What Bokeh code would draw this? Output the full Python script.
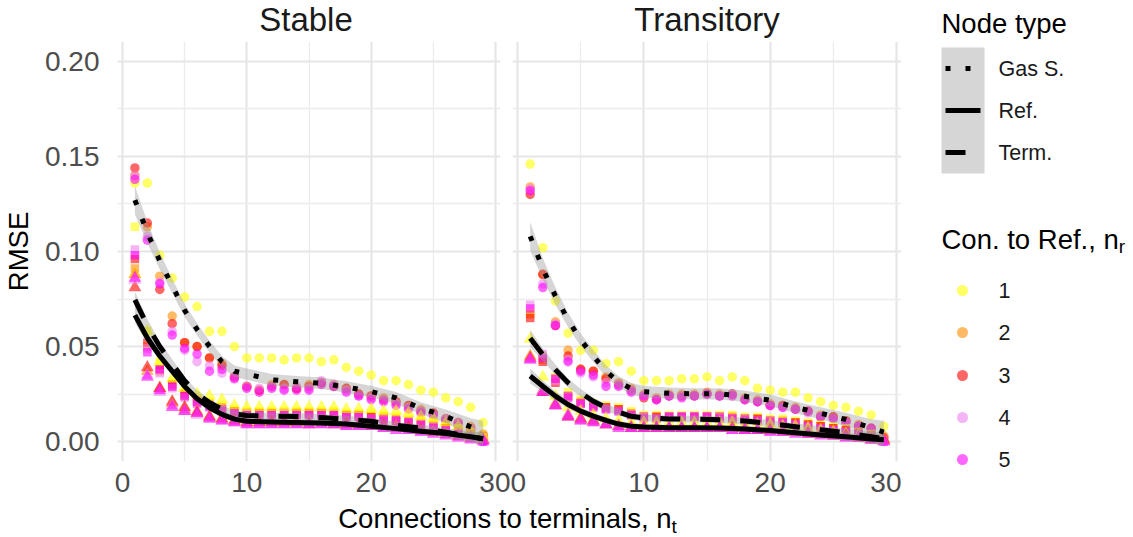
from bokeh.plotting import figure
from bokeh.layouts import row, column
from bokeh.models import Range1d, FixedTicker, NumeralTickFormatter
from bokeh.core.properties import value
from bokeh.embed import file_html
from bokeh.resources import INLINE

FONT = "Liberation Sans"

# ---------------- data ----------------
nt = list(range(1, 30))
panels = ["Stable", "Transitory"]
node_types = ["Gas S.", "Ref.", "Term."]
nr_levels = ["1", "2", "3", "4", "5"]
nr_colors = ["#FFFF00", "#FF8C00", "#FF0000", "#EE82EE", "#FF00FF"]

# Stable, Gas S. (circles)
stable_gas_nr1 = [0.136, 0.136, 0.098, 0.086, 0.076, 0.071, 0.058, 0.058, 0.050, 0.044, 0.044, 0.044, 0.043, 0.044, 0.044, 0.042, 0.043, 0.039, 0.037, 0.035, 0.032, 0.032, 0.030, 0.027, 0.026, 0.023, 0.021, 0.018, 0.010]
stable_gas_nr2 = [0.140, 0.113, 0.087, 0.066, 0.052, 0.050, 0.044, 0.041, 0.034, 0.029, 0.027, 0.030, 0.030, 0.028, 0.030, 0.031, 0.030, 0.028, 0.025, 0.024, 0.023, 0.021, 0.019, 0.017, 0.015, 0.012, 0.010, 0.008, 0.004]
stable_gas_nr3 = [0.144, 0.115, 0.080, 0.062, 0.052, 0.050, 0.044, 0.040, 0.034, 0.029, 0.027, 0.029, 0.030, 0.028, 0.029, 0.031, 0.029, 0.028, 0.025, 0.024, 0.022, 0.021, 0.019, 0.016, 0.015, 0.012, 0.010, 0.007, 0.003]
stable_gas_nr4 = [0.140, 0.108, 0.084, 0.058, 0.048, 0.042, 0.040, 0.036, 0.034, 0.029, 0.028, 0.029, 0.028, 0.029, 0.028, 0.032, 0.030, 0.027, 0.024, 0.023, 0.022, 0.020, 0.018, 0.016, 0.014, 0.012, 0.010, 0.007, 0.002]
stable_gas_nr5 = [0.138, 0.106, 0.083, 0.056, 0.049, 0.046, 0.037, 0.038, 0.033, 0.028, 0.026, 0.028, 0.027, 0.027, 0.027, 0.030, 0.029, 0.026, 0.024, 0.022, 0.021, 0.019, 0.017, 0.015, 0.014, 0.011, 0.009, 0.006, 0.000]

# Stable, Term. (squares)
stable_term_nr1 = [0.113, 0.058, 0.042, 0.031, 0.026, 0.023, 0.021, 0.019, 0.017, 0.016, 0.016, 0.016, 0.016, 0.016, 0.016, 0.016, 0.016, 0.015, 0.015, 0.015, 0.014, 0.013, 0.012, 0.011, 0.010, 0.008, 0.007, 0.005, 0.002]
stable_term_nr2 = [0.091, 0.050, 0.037, 0.029, 0.024, 0.022, 0.020, 0.018, 0.016, 0.015, 0.015, 0.015, 0.015, 0.015, 0.015, 0.015, 0.015, 0.014, 0.014, 0.013, 0.013, 0.012, 0.011, 0.010, 0.009, 0.007, 0.006, 0.004, 0.001]
stable_term_nr3 = [0.096, 0.052, 0.038, 0.030, 0.025, 0.021, 0.019, 0.017, 0.016, 0.015, 0.015, 0.015, 0.015, 0.015, 0.015, 0.015, 0.014, 0.014, 0.014, 0.013, 0.012, 0.011, 0.010, 0.009, 0.008, 0.007, 0.005, 0.004, 0.001]
stable_term_nr4 = [0.101, 0.049, 0.036, 0.028, 0.023, 0.021, 0.019, 0.017, 0.015, 0.015, 0.014, 0.014, 0.015, 0.014, 0.014, 0.014, 0.014, 0.013, 0.013, 0.012, 0.012, 0.011, 0.010, 0.009, 0.008, 0.006, 0.005, 0.003, 0.001]
stable_term_nr5 = [0.098, 0.047, 0.038, 0.029, 0.024, 0.020, 0.018, 0.016, 0.015, 0.014, 0.014, 0.014, 0.014, 0.014, 0.014, 0.014, 0.014, 0.013, 0.013, 0.012, 0.011, 0.011, 0.010, 0.009, 0.007, 0.006, 0.005, 0.003, 0.000]

# Stable, Ref. (triangles)
stable_ref_nr1 = [0.088, 0.058, 0.042, 0.033, 0.028, 0.025, 0.024, 0.022, 0.019, 0.018, 0.018, 0.018, 0.018, 0.018, 0.018, 0.018, 0.018, 0.017, 0.017, 0.017, 0.016, 0.016, 0.015, 0.013, 0.012, 0.010, 0.008, 0.006, 0.003]
stable_ref_nr2 = [0.088, 0.037, 0.028, 0.020, 0.017, 0.016, 0.013, 0.012, 0.011, 0.010, 0.010, 0.010, 0.010, 0.010, 0.010, 0.010, 0.010, 0.009, 0.009, 0.009, 0.008, 0.008, 0.007, 0.006, 0.005, 0.004, 0.003, 0.002, 0.001]
stable_ref_nr3 = [0.081, 0.039, 0.028, 0.021, 0.018, 0.015, 0.013, 0.012, 0.011, 0.010, 0.010, 0.010, 0.010, 0.010, 0.009, 0.010, 0.009, 0.009, 0.009, 0.008, 0.008, 0.007, 0.007, 0.006, 0.005, 0.004, 0.003, 0.002, 0.001]
stable_ref_nr4 = [0.085, 0.035, 0.026, 0.019, 0.016, 0.014, 0.012, 0.011, 0.010, 0.009, 0.009, 0.009, 0.009, 0.009, 0.009, 0.009, 0.009, 0.008, 0.008, 0.008, 0.007, 0.007, 0.006, 0.005, 0.005, 0.004, 0.003, 0.002, 0.001]
stable_ref_nr5 = [0.086, 0.034, 0.027, 0.018, 0.016, 0.015, 0.012, 0.011, 0.010, 0.009, 0.009, 0.009, 0.009, 0.009, 0.009, 0.009, 0.009, 0.008, 0.008, 0.008, 0.007, 0.006, 0.006, 0.005, 0.004, 0.003, 0.002, 0.001, 0.000]

# Transitory, Gas S. (circles)
trans_gas_nr1 = [0.146, 0.102, 0.074, 0.057, 0.048, 0.048, 0.041, 0.042, 0.037, 0.032, 0.032, 0.032, 0.033, 0.033, 0.034, 0.032, 0.034, 0.032, 0.028, 0.027, 0.026, 0.026, 0.023, 0.021, 0.019, 0.018, 0.016, 0.014, 0.008]
trans_gas_nr2 = [0.134, 0.088, 0.063, 0.048, 0.038, 0.037, 0.034, 0.031, 0.028, 0.025, 0.023, 0.025, 0.025, 0.025, 0.026, 0.025, 0.025, 0.023, 0.022, 0.020, 0.019, 0.018, 0.016, 0.014, 0.013, 0.011, 0.009, 0.007, 0.003]
trans_gas_nr3 = [0.130, 0.088, 0.061, 0.045, 0.038, 0.037, 0.033, 0.030, 0.027, 0.023, 0.022, 0.024, 0.024, 0.024, 0.025, 0.024, 0.025, 0.022, 0.021, 0.019, 0.019, 0.017, 0.016, 0.013, 0.013, 0.011, 0.008, 0.007, 0.002]
trans_gas_nr4 = [0.133, 0.083, 0.062, 0.043, 0.036, 0.034, 0.031, 0.030, 0.027, 0.024, 0.022, 0.024, 0.024, 0.024, 0.025, 0.024, 0.025, 0.022, 0.021, 0.019, 0.018, 0.017, 0.015, 0.013, 0.012, 0.010, 0.008, 0.006, 0.001]
trans_gas_nr5 = [0.132, 0.081, 0.061, 0.042, 0.037, 0.035, 0.029, 0.029, 0.026, 0.024, 0.022, 0.024, 0.023, 0.024, 0.025, 0.024, 0.024, 0.022, 0.021, 0.019, 0.018, 0.017, 0.016, 0.013, 0.012, 0.010, 0.008, 0.007, 0.000]

# Transitory, Term. (squares)
trans_term_nr1 = [0.068, 0.045, 0.034, 0.026, 0.022, 0.020, 0.019, 0.018, 0.016, 0.014, 0.014, 0.014, 0.014, 0.014, 0.014, 0.014, 0.014, 0.013, 0.013, 0.012, 0.012, 0.011, 0.010, 0.009, 0.008, 0.007, 0.005, 0.004, 0.001]
trans_term_nr2 = [0.067, 0.043, 0.033, 0.024, 0.021, 0.019, 0.018, 0.017, 0.015, 0.013, 0.013, 0.013, 0.013, 0.013, 0.013, 0.013, 0.013, 0.012, 0.012, 0.011, 0.011, 0.010, 0.009, 0.008, 0.007, 0.006, 0.005, 0.003, 0.001]
trans_term_nr3 = [0.065, 0.042, 0.031, 0.024, 0.020, 0.019, 0.018, 0.017, 0.014, 0.013, 0.013, 0.013, 0.013, 0.013, 0.013, 0.013, 0.012, 0.012, 0.012, 0.011, 0.010, 0.010, 0.009, 0.008, 0.007, 0.006, 0.004, 0.003, 0.001]
trans_term_nr4 = [0.072, 0.046, 0.032, 0.024, 0.020, 0.018, 0.017, 0.016, 0.014, 0.013, 0.012, 0.013, 0.013, 0.013, 0.013, 0.013, 0.012, 0.012, 0.011, 0.011, 0.010, 0.009, 0.008, 0.007, 0.006, 0.005, 0.004, 0.003, 0.001]
trans_term_nr5 = [0.070, 0.044, 0.033, 0.023, 0.020, 0.018, 0.017, 0.016, 0.014, 0.012, 0.012, 0.013, 0.013, 0.013, 0.013, 0.012, 0.012, 0.011, 0.011, 0.010, 0.010, 0.009, 0.008, 0.007, 0.006, 0.005, 0.004, 0.002, 0.000]

# Transitory, Ref. (triangles)
trans_ref_nr1 = [0.054, 0.034, 0.024, 0.018, 0.016, 0.014, 0.012, 0.011, 0.010, 0.010, 0.010, 0.010, 0.010, 0.010, 0.010, 0.010, 0.010, 0.009, 0.009, 0.009, 0.008, 0.008, 0.007, 0.006, 0.005, 0.004, 0.003, 0.002, 0.001]
trans_ref_nr2 = [0.045, 0.027, 0.020, 0.014, 0.012, 0.011, 0.009, 0.008, 0.008, 0.007, 0.007, 0.007, 0.007, 0.007, 0.007, 0.007, 0.007, 0.007, 0.006, 0.006, 0.006, 0.005, 0.005, 0.004, 0.004, 0.003, 0.002, 0.002, 0.001]
trans_ref_nr3 = [0.044, 0.026, 0.019, 0.013, 0.012, 0.011, 0.009, 0.008, 0.007, 0.007, 0.007, 0.007, 0.007, 0.007, 0.007, 0.007, 0.007, 0.006, 0.006, 0.006, 0.005, 0.005, 0.004, 0.004, 0.003, 0.003, 0.002, 0.001, 0.001]
trans_ref_nr4 = [0.043, 0.027, 0.019, 0.014, 0.011, 0.010, 0.009, 0.008, 0.007, 0.007, 0.007, 0.007, 0.007, 0.007, 0.007, 0.007, 0.006, 0.006, 0.006, 0.005, 0.005, 0.005, 0.004, 0.004, 0.003, 0.002, 0.002, 0.001, 0.000]
trans_ref_nr5 = [0.043, 0.026, 0.019, 0.013, 0.011, 0.010, 0.009, 0.007, 0.007, 0.007, 0.007, 0.007, 0.007, 0.007, 0.007, 0.007, 0.006, 0.006, 0.006, 0.005, 0.005, 0.004, 0.004, 0.003, 0.003, 0.002, 0.002, 0.001, 0.000]

# Smoothed fits and their confidence half-widths
fit_x = [1, 2, 3, 4, 5, 6, 7, 8, 9, 10, 12, 14, 16, 18, 20, 22, 24, 26, 28, 29]
stable_gas_fit = [0.127, 0.110, 0.095, 0.082, 0.069, 0.059, 0.050, 0.042, 0.037, 0.0355, 0.0325, 0.0315, 0.0307, 0.0287, 0.0263, 0.023, 0.0175, 0.0133, 0.0077, 0.0050]
stable_term_fit = [0.0745, 0.061, 0.050, 0.041, 0.032, 0.025, 0.0205, 0.017, 0.0145, 0.0137, 0.0134, 0.0132, 0.0126, 0.0118, 0.0107, 0.0085, 0.0071, 0.0049, 0.0026, 0.0015]
stable_ref_fit = [0.0665, 0.0545, 0.045, 0.037, 0.029, 0.0225, 0.0178, 0.0143, 0.0118, 0.0107, 0.0103, 0.0100, 0.0097, 0.0092, 0.0081, 0.0068, 0.0054, 0.0042, 0.0025, 0.0015]
trans_gas_fit = [0.108, 0.091, 0.0765, 0.064, 0.0535, 0.045, 0.037, 0.0314, 0.0278, 0.0262, 0.0254, 0.0251, 0.0251, 0.0238, 0.0217, 0.018, 0.0149, 0.0116, 0.0072, 0.0050]
trans_term_fit = [0.0544, 0.0457, 0.0378, 0.0309, 0.0256, 0.0212, 0.0178, 0.0155, 0.0133, 0.0124, 0.0119, 0.0118, 0.0115, 0.0108, 0.0095, 0.0078, 0.0062, 0.0047, 0.0025, 0.0015]
trans_ref_fit = [0.0345, 0.0291, 0.0239, 0.0195, 0.016, 0.0134, 0.0111, 0.0092, 0.0081, 0.0076, 0.0073, 0.0073, 0.0071, 0.0066, 0.0058, 0.0046, 0.0035, 0.0025, 0.0014, 0.0010]
gas_se = [0.0075, 0.0055, 0.0045, 0.0038, 0.0034, 0.0032, 0.0031, 0.0030, 0.0030, 0.0030, 0.0030, 0.0030, 0.0030, 0.0030, 0.0030, 0.0031, 0.0032, 0.0035, 0.0045, 0.0060]
term_se = [0.0045, 0.0033, 0.0027, 0.0023, 0.0021, 0.0020, 0.0019, 0.0018, 0.0018, 0.0018, 0.0018, 0.0018, 0.0018, 0.0018, 0.0018, 0.0018, 0.0019, 0.0021, 0.0027, 0.0035]
ref_se = [0.0040, 0.0030, 0.0025, 0.0021, 0.0019, 0.0018, 0.0017, 0.0016, 0.0016, 0.0016, 0.0016, 0.0016, 0.0016, 0.0016, 0.0016, 0.0016, 0.0017, 0.0019, 0.0024, 0.0032]

# ---------------- styling ----------------
marker_of = {"Gas S.": "circle", "Term.": "square", "Ref.": "triangle"}
marker_size = {"Gas S.": 9.5, "Term.": 8.5, "Ref.": 13}
dash_of = {"Gas S.": "5 15", "Ref.": "solid", "Term.": "20 20"}
PT_ALPHA = 0.6
LINE_W = 5

W, H = 1133, 537
TOP = 41          # height of the strip-title band
FRAME_W = 389
FRAME_H = 420
BOTTOM = 39
MID_H = FRAME_H + BOTTOM
XT_H = H - TOP - MID_H

panel_points = {
    "Stable": {
        "Gas S.": [stable_gas_nr1, stable_gas_nr2, stable_gas_nr3, stable_gas_nr4, stable_gas_nr5],
        "Term.": [stable_term_nr1, stable_term_nr2, stable_term_nr3, stable_term_nr4, stable_term_nr5],
        "Ref.": [stable_ref_nr1, stable_ref_nr2, stable_ref_nr3, stable_ref_nr4, stable_ref_nr5],
    },
    "Transitory": {
        "Gas S.": [trans_gas_nr1, trans_gas_nr2, trans_gas_nr3, trans_gas_nr4, trans_gas_nr5],
        "Term.": [trans_term_nr1, trans_term_nr2, trans_term_nr3, trans_term_nr4, trans_term_nr5],
        "Ref.": [trans_ref_nr1, trans_ref_nr2, trans_ref_nr3, trans_ref_nr4, trans_ref_nr5],
    },
}
panel_fits = {
    "Stable": {"Gas S.": stable_gas_fit, "Term.": stable_term_fit, "Ref.": stable_ref_fit},
    "Transitory": {"Gas S.": trans_gas_fit, "Term.": trans_term_fit, "Ref.": trans_ref_fit},
}
se_of = {"Gas S.": gas_se, "Term.": term_se, "Ref.": ref_se}


def blank(width, height, x0, x1, y0, y1):
    f = figure(width=width, height=height, x_range=Range1d(x0, x1), y_range=Range1d(y1, y0),
               output_backend="svg", toolbar_location=None,
               min_border_left=0, min_border_right=0, min_border_top=0, min_border_bottom=0)
    f.axis.visible = False
    f.grid.visible = False
    f.outline_line_color = None
    f.frame_align = False
    return f


def make_panel(name, left, right, show_y):
    p = figure(width=left + FRAME_W + right, height=MID_H,
               x_range=Range1d(-0.4, 30.4), y_range=Range1d(-0.0105, 0.2105),
               output_backend="svg", toolbar_location=None,
               min_border_left=left, min_border_right=right,
               min_border_top=0, min_border_bottom=BOTTOM)
    p.outline_line_color = None

    xt = FixedTicker(ticks=[0, 10, 20, 30], minor_ticks=[5, 15, 25])
    yt = FixedTicker(ticks=[0, 0.05, 0.10, 0.15, 0.20], minor_ticks=[0.025, 0.075, 0.125, 0.175])
    p.xaxis.ticker = xt
    p.yaxis.ticker = yt
    p.xgrid.ticker = xt
    p.ygrid.ticker = yt
    for g in (p.xgrid, p.ygrid):
        g.grid_line_color = "#E6E6E6"
        g.grid_line_width = 2.2
        g.minor_grid_line_color = "#ECECEC"
        g.minor_grid_line_width = 1.3

    for ax in (p.xaxis, p.yaxis):
        ax.axis_line_color = None
        ax.major_tick_line_color = None
        ax.minor_tick_line_color = None
        ax.major_label_text_font = FONT
        ax.major_label_text_font_size = "28px"
        ax.major_label_text_color = "#4D4D4D"
    p.xaxis.major_label_standoff = 5
    p.yaxis.major_label_standoff = 12
    p.yaxis.formatter = NumeralTickFormatter(format="0.00")
    if show_y:
        p.yaxis.axis_label = "RMSE"
        p.yaxis.axis_label_text_font = FONT
        p.yaxis.axis_label_text_font_size = "27.5px"
        p.yaxis.axis_label_text_font_style = "normal"
        p.yaxis.axis_label_text_color = "black"
        p.yaxis.axis_label_standoff = 8
    else:
        p.yaxis.visible = False

    for nt_type in ["Gas S.", "Term.", "Ref."]:
        for vals, col in zip(panel_points[name][nt_type], nr_colors):
            p.scatter(nt, vals, marker=marker_of[nt_type], size=marker_size[nt_type],
                      fill_color=col, fill_alpha=PT_ALPHA, line_color=None)

    for nt_type in ["Gas S.", "Ref.", "Term."]:
        fit = panel_fits[name][nt_type]
        se = se_of[nt_type]
        lo = [f - s for f, s in zip(fit, se)]
        hi = [f + s for f, s in zip(fit, se)]
        p.varea(x=fit_x, y1=lo, y2=hi, fill_color="#999999", fill_alpha=0.4)
    for nt_type in ["Gas S.", "Ref.", "Term."]:
        fit = panel_fits[name][nt_type]
        p.line(fit_x, fit, line_color="black", line_width=LINE_W,
               line_dash=dash_of[nt_type], line_cap="butt", line_join="round")
    return p


P1_LEFT, P1_RIGHT, P2_LEFT = 111, 10, 2
p1 = make_panel("Stable", P1_LEFT, P1_RIGHT, True)
p2 = make_panel("Transitory", P2_LEFT, 0, False)
f1_center = P1_LEFT + FRAME_W / 2
f2_left = P1_LEFT + FRAME_W + P1_RIGHT + P2_LEFT
f2_center = f2_left + FRAME_W / 2
LEG_X0 = f2_left + FRAME_W


def txt(fig, x, y, s, size, color="black", align="left"):
    fig.text(x=x, y=y, text=s, text_font=value(FONT), text_font_size=size,
             text_baseline="middle", text_align=align, text_color=color)


# ---------------- top band: strip titles + first legend title ----------------
ptop = blank(W, TOP, 0, W, 0, TOP)
txt(ptop, [f1_center, f2_center], [18.5, 18.5], panels, "33px", "#1A1A1A", "center")
txt(ptop, [941], [23], ["Node type"], "27.5px")

# ---------------- legend panel ----------------
pl = blank(W - LEG_X0, MID_H, LEG_X0, W, TOP, TOP + MID_H)
key_rows = [68, 110, 152]
pl.quad(left=[941], right=[984], top=[47], bottom=[173], fill_color="#999999", fill_alpha=0.4, line_color=None)
for yk, nt_type in zip(key_rows, node_types):
    pl.line([945, 980], [yk, yk], line_color="black", line_width=LINE_W,
            line_dash=dash_of[nt_type], line_cap="butt")
txt(pl, [998] * 3, key_rows, node_types, "21.5px", "#1A1A1A")

txt(pl, [941], [239], ["Con. to Ref., n"], "27.5px")
txt(pl, [941 + 6.448 * 27.5], [245.5], ["r"], "19px")
col_rows = [290, 332, 375, 417, 459]
pl.scatter(x=[962] * 5, y=col_rows, marker="circle", size=11, fill_color=nr_colors,
           fill_alpha=PT_ALPHA, line_color=None)
txt(pl, [998] * 5, col_rows, nr_levels, "21.5px", "#1A1A1A")

# ---------------- x-axis title band ----------------
pt = blank(W, XT_H, 0, W, TOP + MID_H, H)
main_w = 12.116 * 27.5
sub_w = 0.278 * 19
x_start = 507 - (main_w + sub_w) / 2
txt(pt, [x_start], [517.5], ["Connections to terminals, n"], "27.5px")
txt(pt, [x_start + main_w], [525.5], ["t"], "19px")

layout = column(ptop, row(p1, p2, pl), pt)
open("out.html", "w").write(file_html(layout, INLINE))
